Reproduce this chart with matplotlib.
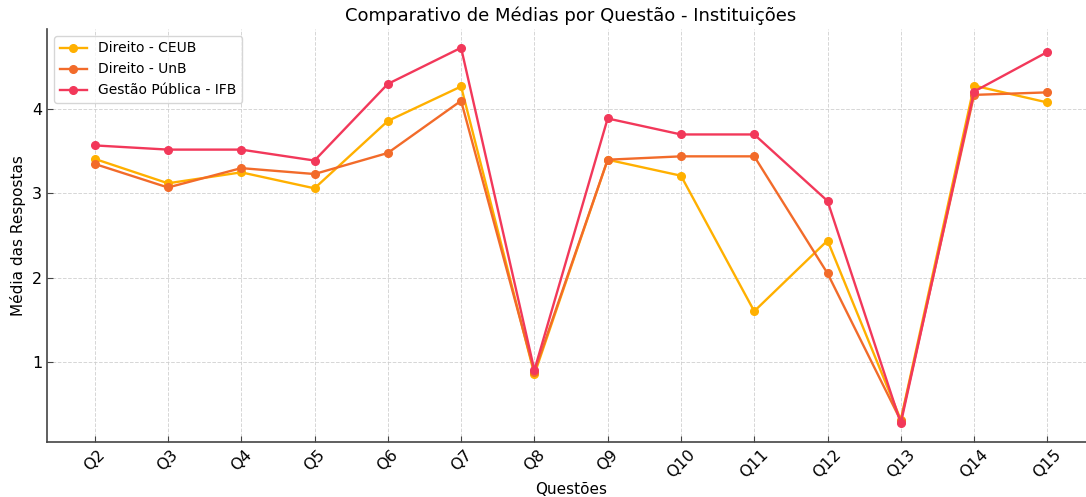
import numpy as np
import matplotlib.pyplot as plt

# Questions and mean answers per institution
questoes = ['Q2', 'Q3', 'Q4', 'Q5', 'Q6', 'Q7', 'Q8', 'Q9', 'Q10', 'Q11', 'Q12', 'Q13', 'Q14', 'Q15']
ceub = [3.41, 3.12, 3.25, 3.06, 3.86, 4.27, 0.85, 3.40, 3.21, 1.60, 2.44, 0.31, 4.28, 4.08]
unb = [3.35, 3.07, 3.30, 3.23, 3.48, 4.10, 0.88, 3.40, 3.44, 3.44, 2.05, 0.30, 4.17, 4.20]
ifb = [3.57, 3.52, 3.52, 3.39, 4.30, 4.73, 0.90, 3.89, 3.70, 3.70, 2.91, 0.27, 4.21, 4.68]

series = [
    ('Direito - CEUB', ceub, '#FFB000'),
    ('Direito - UnB', unb, '#F26B2A'),
    ('Gestão Pública - IFB', ifb, '#F2385A'),
]

fig = plt.figure(figsize=(10.86, 4.97), dpi=100)
ax = fig.add_axes([0.0433, 0.1107, 0.965, 0.831])

x = np.arange(len(questoes))
for label, vals, color in series:
    ax.plot(x, vals, marker='o', markersize=5.5, linewidth=1.7, color=color, label=label)

ax.set_xticks(x)
ax.set_xticklabels(questoes, rotation=45, fontsize=11.5)
ax.set_yticks([1, 2, 3, 4])
ax.tick_params(axis='y', labelsize=11.5)
ax.tick_params(direction='in', length=4, color='#444444')

ax.grid(True, linestyle='--', linewidth=0.7, color='#cccccc', alpha=0.8)
ax.spines['top'].set_visible(False)
ax.spines['right'].set_visible(False)
for s in ['left', 'bottom']:
    ax.spines[s].set_color('#444444')
    ax.spines[s].set_linewidth(1.2)

ax.set_xlabel('Questões', fontsize=11, labelpad=1)
ax.set_ylabel('Média das Respostas', fontsize=11)
ax.set_title('Comparativo de Médias por Questão - Instituições', fontsize=13)
ax.legend(loc='upper left', fontsize=10)

plt.savefig('out.png', dpi=100)
plt.close()
